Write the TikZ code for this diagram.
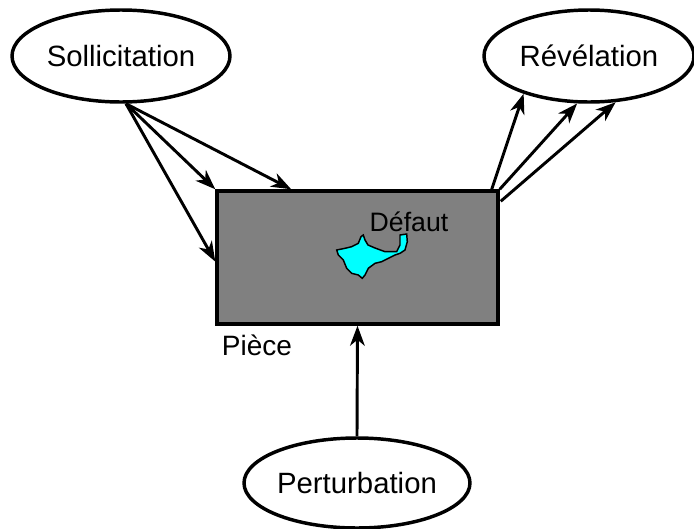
\documentclass[tikz,border=0pt]{standalone}
\usepackage{fontspec}
\setmainfont{Liberation Sans}
\usetikzlibrary{shapes.geometric,arrows.meta,calc}
\definecolor{defcyan}{RGB}{0,255,255}
\definecolor{piecegray}{RGB}{128,128,128}
\begin{document}
\begin{tikzpicture}[x=0.75pt,y=-0.75pt,
  oval/.style={ellipse,draw,line width=2.6pt,fill=white,inner sep=0pt,font=\fontsize{22}{26}\selectfont},
  conn/.style={line width=2.2pt,-{Stealth[length=15pt,width=11pt,inset=4.5pt]}},
  lbl/.style={font=\fontsize{20}{24}\selectfont,inner sep=0pt}]
\useasboundingbox (0,0) rectangle (694,529);
\node[oval,minimum width=218*0.75pt,minimum height=92*0.75pt] (sol) at (121,56) {Sollicitation};
\node[oval,minimum width=210*0.75pt,minimum height=92*0.75pt] (rev) at (589,56) {Révélation};
\node[oval,minimum width=220*0.75pt,minimum height=90*0.75pt] (pert) at (357,483) {Perturbation};
\node[draw,line width=2.6pt,fill=piecegray,minimum width=281*0.75pt,minimum height=133*0.75pt,inner sep=0pt] (piece) at (357.5,257.5) {};
\node[lbl] (defaut) at (409,222) {Défaut};
\node[lbl,font=\fontsize{21}{24}\selectfont] (pieceLbl) at (257,345) {Pièce};
\draw[fill=defcyan,line width=1.1pt] plot coordinates {(336.7,250) (345,248.3) (351.7,246.7) (358.3,243.3) (361,236.7) (363.3,235) (365,240) (368,245) (375,248) (385,251.7) (396.7,251.7) (400,245) (400,235) (406.7,234) (407.3,241.7) (405,250) (400,253.3) (395,255) (388.3,258.3) (381.7,261.7) (375,263.3) (368.3,268.3) (365,275) (362.3,278.3) (358.3,275) (351.7,273.3) (346.7,268.3) (343.3,260) (338.3,255)} -- cycle;
\coordinate (s0) at ($(sol.south)+(5,0)$);
\draw[conn] (s0) -- (piece.north west);
\draw[conn] (s0) -- ($(piece.north west)!0.267!(piece.north east)$);
\draw[conn] (s0) -- ($(piece.north west)!0.53!(piece.south west)$);
\draw[conn] ($(piece.north east)+(-8,0)$) -- (rev.210);
\draw[conn] (piece.north east) -- (rev.256);
\draw[conn] ($(piece.north east)+(1,12)$) -- (rev.300);
\draw[conn] (pert.north) -- (piece.south);
\end{tikzpicture}
\end{document}
